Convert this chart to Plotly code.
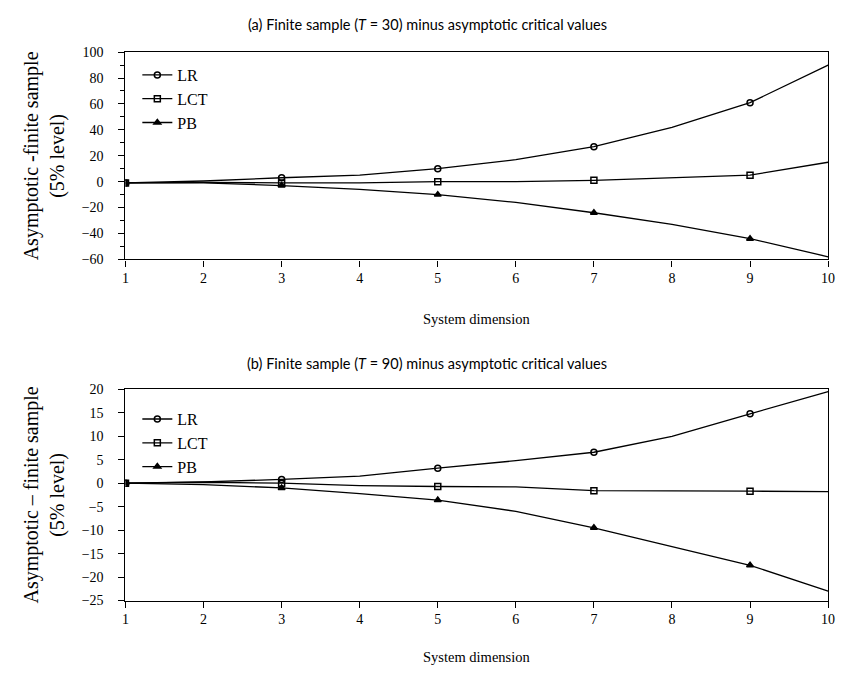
import plotly.graph_objects as go

dims = [1, 2, 3, 4, 5, 6, 7, 8, 9, 10]
marker_dims = [1, 3, 5, 7, 9]

# Panel (a): T = 30
a_lr = [-1, 0.5, 3, 5, 10, 17, 27, 42, 61, 90]
a_lct = [-1, -0.5, -1, -1, 0, 0, 1, 3, 5, 15]
a_pb = [-1, -1, -3, -6, -10, -16, -24, -33, -44, -58]

# Panel (b): T = 90
b_lr = [0, 0.3, 0.8, 1.5, 3.2, 4.8, 6.6, 10, 14.8, 19.5]
b_lct = [0, 0.2, 0, -0.5, -0.7, -0.8, -1.6, -1.6, -1.7, -1.8]
b_pb = [0, -0.3, -1, -2.2, -3.6, -6, -9.5, -13.5, -17.5, -23]

series_names = ["LR", "LCT", "PB"]
symbols = ["circle-open", "square-open", "triangle-up"]

title_a = "(a) Finite sample (<i>T</i> = 30) minus asymptotic critical values"
title_b = "(b) Finite sample (<i>T</i> = 90) minus asymptotic critical values"
ylab_a = "Asymptotic -finite sample<br>(5% level)"
ylab_b = "Asymptotic \u2013 finite sample<br>(5% level)"
xlab = "System dimension"

serif = "Liberation Serif, DejaVu Serif, serif"
sans = "Lato, Open Sans, sans-serif"

fig = go.Figure()


def add_panel(vals, xa, ya, legend):
    for name, sym, y in zip(series_names, symbols, vals):
        cols = ["black" if d in marker_dims else "rgba(0,0,0,0)" for d in dims]
        fig.add_trace(go.Scatter(
            x=dims, y=y, name=name, mode="lines+markers",
            line=dict(color="black", width=1.3),
            marker=dict(symbol=sym, size=6, color=cols,
                        line=dict(color=cols, width=1.5)),
            xaxis=xa, yaxis=ya, legend=legend,
        ))


add_panel([a_lr, a_lct, a_pb], "x", "y", "legend")
add_panel([b_lr, b_lct, b_pb], "x2", "y2", "legend2")

# page body has an 8px margin; the figure is sized to the visible area
OFF = 8
W, H = 844 - OFF, 674 - OFF
x0, x1 = 123, 835
ya_top, ya_bot = 46, 258
yb_top, yb_bot = 391, 607


def px(p):
    return (p - OFF) / W


def py(p):
    return 1 - (p - OFF) / H


axis_common = dict(
    showline=True, linecolor="black", linewidth=1.3, mirror=True,
    ticks="outside", tickcolor="black", ticklen=6, tickwidth=1.2,
    showgrid=False, zeroline=False, ticklabeloverflow="allow",
    tickfont=dict(family=serif, size=14, color="black"),
)

leg_common = dict(xanchor="left", yanchor="top", bgcolor="rgba(0,0,0,0)",
                  font=dict(family=serif, size=16, color="black"),
                  tracegroupgap=0, itemwidth=30)

fig.update_layout(
    width=W, height=H,
    margin=dict(l=0, r=0, t=0, b=0),
    paper_bgcolor="white", plot_bgcolor="white",
    xaxis=dict(domain=[px(x0), px(x1)], range=[1, 10], dtick=1,
               anchor="y", **axis_common),
    yaxis=dict(domain=[py(ya_bot), py(ya_top)], range=[-60, 100], dtick=20,
               anchor="x", ticklabelstandoff=12,
               minor=dict(dtick=10, ticks="outside", ticklen=4,
                          tickcolor="black"),
               **axis_common),
    xaxis2=dict(domain=[px(x0), px(x1)], range=[1, 10], dtick=1,
                anchor="y2", **axis_common),
    yaxis2=dict(domain=[py(yb_bot), py(yb_top)], range=[-25, 20], dtick=5,
                anchor="x2", ticklabelstandoff=12, **axis_common),
    legend=dict(x=px(x0 + 12), y=py(52), **leg_common),
    legend2=dict(x=px(x0 + 12), y=py(404), **leg_common),
)

cx = (x0 + x1) / 2
annots = [
    dict(text=title_a, x=px(429), y=py(18), font=dict(family=sans, size=14.5)),
    dict(text=title_b, x=px(429), y=py(365), font=dict(family=sans, size=14.5)),
    dict(text=xlab, x=px(cx), y=py(319), font=dict(family=serif, size=14.5)),
    dict(text=xlab, x=px(cx), y=py(665), font=dict(family=serif, size=14.5)),
    dict(text=ylab_a, x=px(41), y=py((ya_top + ya_bot) / 2), textangle=-90,
         font=dict(family=serif, size=20)),
    dict(text=ylab_b, x=px(41), y=py((yb_top + yb_bot) / 2), textangle=-90,
         font=dict(family=serif, size=20)),
]
for a in annots:
    a.update(xref="paper", yref="paper", showarrow=False,
             xanchor="center", yanchor="middle")
    a["font"]["color"] = "black"
    fig.add_annotation(**a)

fig.write_html("out.html")
